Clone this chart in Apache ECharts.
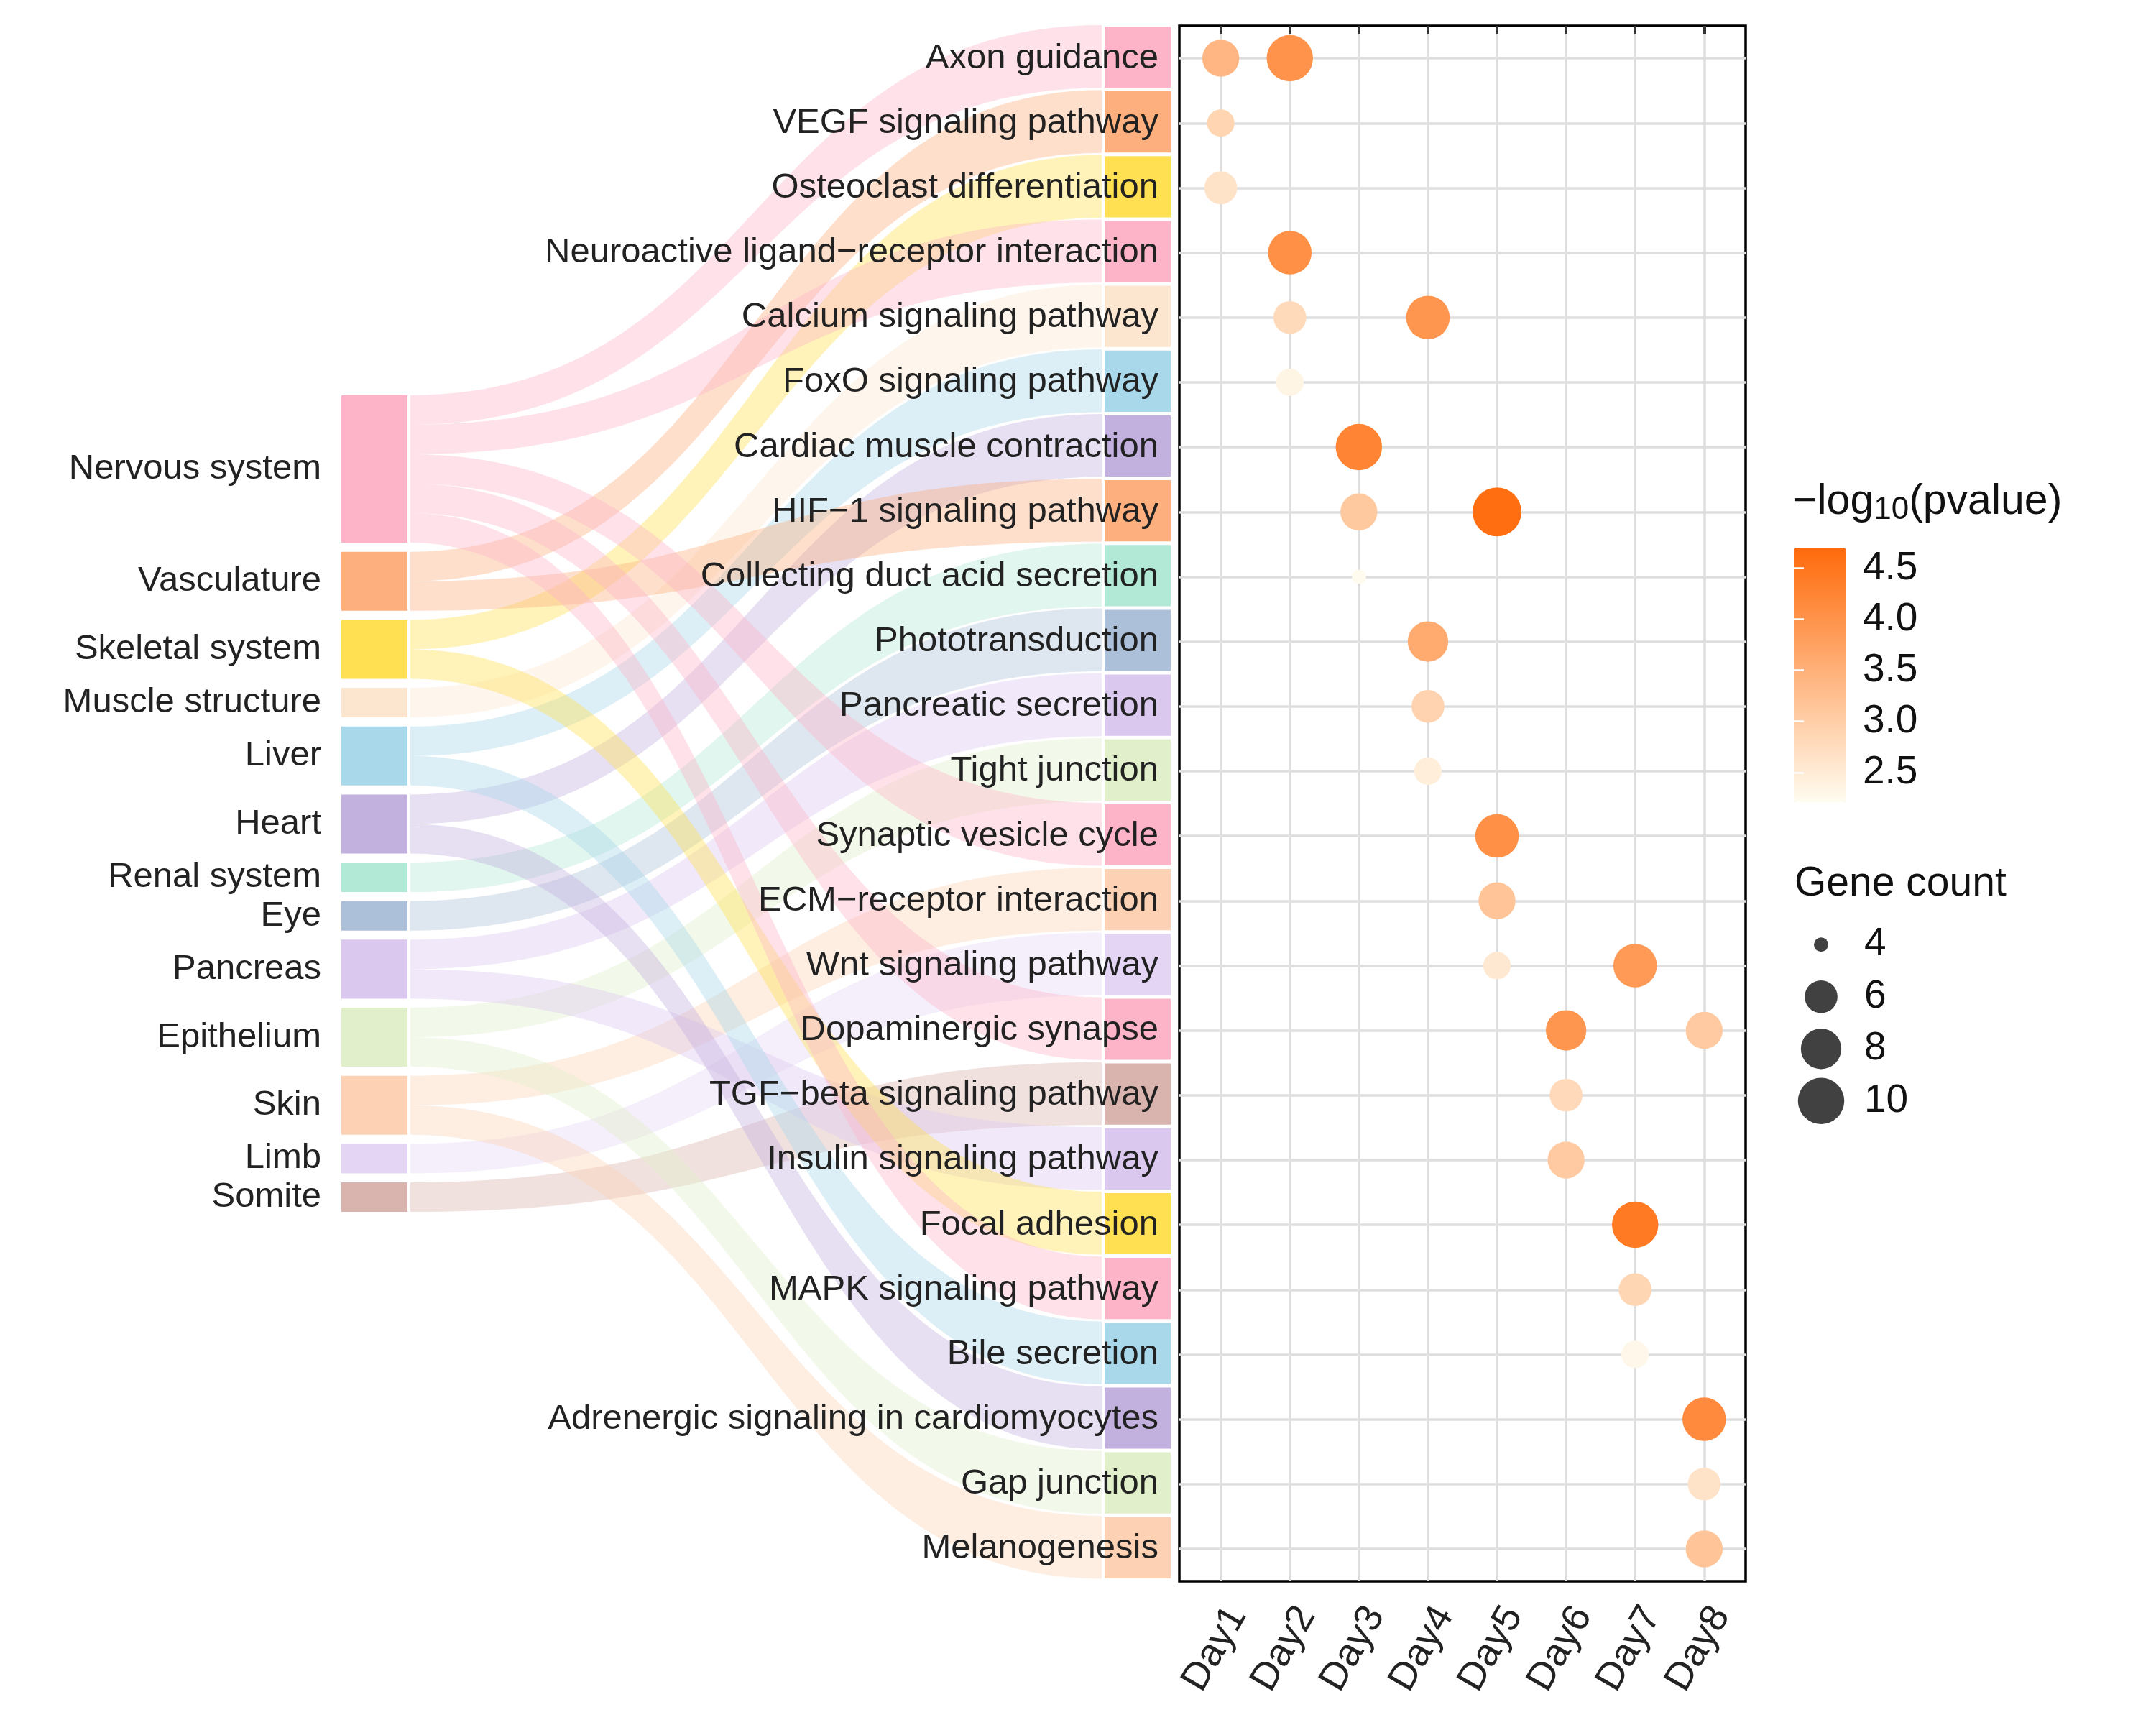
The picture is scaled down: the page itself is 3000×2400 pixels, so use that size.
<!DOCTYPE html>
<html>
<head>
<meta charset="utf-8">
<script src="https://cdn.jsdelivr.net/npm/echarts@6/dist/echarts.min.js"></script>
<style>
  html, body { margin: 0; padding: 0; background: #fff; }
  #chart { width: 3000px; height: 2400px; }
</style>
</head>
<body>
<div id="chart"></div>
<script>
"use strict";

// tissues (left column) and their colours
var tissues = ['Nervous system', 'Vasculature', 'Skeletal system', 'Muscle structure', 'Liver', 'Heart',
  'Renal system', 'Eye', 'Pancreas', 'Epithelium', 'Skin', 'Limb', 'Somite'];
var tissueColors = ['#FDB3C8', '#FDB07E', '#FEE052', '#FCE6D0', '#A8D8E9', '#C2B0DF',
  '#B2E9D6', '#ADC0DA', '#DBC8EF', '#E1EFCB', '#FDD2B4', '#E5D5F5', '#D9B3AE'];

// pathways (right column / dot rows), top to bottom
var pathways = ['Axon guidance', 'VEGF signaling pathway', 'Osteoclast differentiation',
  'Neuroactive ligand\u2212receptor interaction', 'Calcium signaling pathway', 'FoxO signaling pathway',
  'Cardiac muscle contraction', 'HIF\u22121 signaling pathway', 'Collecting duct acid secretion',
  'Phototransduction', 'Pancreatic secretion', 'Tight junction', 'Synaptic vesicle cycle',
  'ECM\u2212receptor interaction', 'Wnt signaling pathway', 'Dopaminergic synapse',
  'TGF\u2212beta signaling pathway', 'Insulin signaling pathway', 'Focal adhesion',
  'MAPK signaling pathway', 'Bile secretion', 'Adrenergic signaling in cardiomyocytes',
  'Gap junction', 'Melanogenesis'];
var pathwayTissue = ['Nervous system', 'Vasculature', 'Skeletal system', 'Nervous system',
  'Muscle structure', 'Liver', 'Heart', 'Vasculature', 'Renal system', 'Eye', 'Pancreas',
  'Epithelium', 'Nervous system', 'Skin', 'Limb', 'Nervous system', 'Somite', 'Pancreas',
  'Skeletal system', 'Nervous system', 'Liver', 'Heart', 'Epithelium', 'Skin'];

var days = ['Day1', 'Day2', 'Day3', 'Day4', 'Day5', 'Day6', 'Day7', 'Day8'];

// dots: pathway, day, -log10(pvalue), gene count
var dotPathway = ['Axon guidance', 'Axon guidance', 'VEGF signaling pathway', 'Osteoclast differentiation',
  'Neuroactive ligand\u2212receptor interaction', 'Calcium signaling pathway', 'Calcium signaling pathway',
  'FoxO signaling pathway', 'Cardiac muscle contraction', 'HIF\u22121 signaling pathway',
  'HIF\u22121 signaling pathway', 'Collecting duct acid secretion', 'Phototransduction',
  'Pancreatic secretion', 'Tight junction', 'Synaptic vesicle cycle', 'ECM\u2212receptor interaction',
  'Wnt signaling pathway', 'Wnt signaling pathway', 'Dopaminergic synapse', 'Dopaminergic synapse',
  'TGF\u2212beta signaling pathway', 'Insulin signaling pathway', 'Focal adhesion',
  'MAPK signaling pathway', 'Bile secretion', 'Adrenergic signaling in cardiomyocytes',
  'Gap junction', 'Melanogenesis'];
var dotDay = [1, 2, 1, 1, 2, 2, 4, 2, 3, 3, 5, 3, 4, 4, 4, 5, 5, 5, 7, 6, 8, 6, 6, 7, 7, 7, 8, 8, 8];
var dotLogP = [3.40, 4.00, 2.88, 2.64, 4.05, 2.79, 3.95, 2.33, 4.24, 3.08, 4.63, 2.22, 3.61, 2.91, 2.45,
  4.05, 3.15, 2.55, 3.88, 3.95, 3.07, 2.80, 3.07, 4.43, 2.86, 2.28, 4.15, 2.64, 3.15];
var dotCount = [7, 10, 5, 6, 9, 6, 9, 5, 10, 7, 11, 4, 8, 6, 5, 9, 7, 5, 9, 8, 7, 6, 7, 10, 6, 5, 9, 6, 7];

var sizeBreaks = [4, 6, 8, 10];
var colorTicks = [2.5, 3.0, 3.5, 4.0, 4.5];

var FONT = "'Liberation Sans', Arial, Helvetica, sans-serif";
var TEXT = '#222222';

// point diameter (area scale, counts 4..11)
function dotSize(n) {
  return 20 + 48 * Math.sqrt(Math.max(0, n - 4) / 7);
}

// ---- sankey layout in row units (24 rows) ----
var unit = 0.455, gap = 0.14;
var tissueCounts = tissues.map(function (t) {
  return pathwayTissue.filter(function (p) { return p === t; }).length;
});
var leftTotal = tissueCounts.reduce(function (a, b) { return a + b; }, 0) * unit + (tissues.length - 1) * gap;
var tissueStart = [];
var yy = (pathways.length - leftTotal) / 2;
tissues.forEach(function (t, i) {
  tissueStart.push(yy);
  yy += tissueCounts[i] * unit + gap;
});

var NODE_L = [0, 0.0797], NODE_R = [0.9203, 1], FLOW_X = [0.0832, 0.9168];

var flowData = [], nodeData = [], leftLabelData = [];
var used = tissues.map(function () { return 0; });
pathways.forEach(function (p, i) {
  var t = tissues.indexOf(pathwayTissue[i]);
  var s0 = tissueStart[t] + used[t] * unit;
  used[t]++;
  flowData.push([s0, s0 + unit, i - 0.01, i + 0.96, t]);
  nodeData.push([NODE_R[0], NODE_R[1], i + 0.01, i + 0.955, t]);
});
tissues.forEach(function (t, i) {
  nodeData.push([NODE_L[0], NODE_L[1], tissueStart[i], tissueStart[i] + tissueCounts[i] * unit, i]);
  leftLabelData.push([tissueStart[i] + tissueCounts[i] * unit / 2, i]);
});

var dotData = dotPathway.map(function (p, i) {
  return [dotDay[i], pathways.indexOf(p) + 0.5, dotLogP[i], dotCount[i]];
});

var rowCenters = pathways.map(function (p, i) { return i + 0.5; });
var dayTicks = days.map(function (d, i) { return i + 1; });

var chart = echarts.init(document.getElementById('chart'), null, { renderer: 'canvas' });

var option = {
  backgroundColor: '#ffffff',
  animation: false,
  textStyle: { fontFamily: FONT },
  title: [
    {
      text: '{a|\u2212log}{b|10}{a|(pvalue)}',
      left: 2494, top: 666, padding: 0,
      textStyle: {
        fontWeight: 'normal',
        rich: {
          a: { fontSize: 59, fontFamily: FONT, fontWeight: 'normal', color: '#111', lineHeight: 66 },
          b: { fontSize: 44, fontFamily: FONT, fontWeight: 'normal', color: '#111', lineHeight: 38, verticalAlign: 'bottom' }
        }
      }
    },
    {
      text: 'Gene count', left: 2497, top: 1202, padding: 0,
      textStyle: { fontSize: 57, fontFamily: FONT, color: '#111', fontWeight: 'normal', lineHeight: 57 }
    }
  ],
  grid: [
    { left: 475, right: 1371, top: 36, bottom: 200 },
    { left: 1641, right: 571, top: 36, bottom: 200, show: true, borderColor: '#000', borderWidth: 3.5, backgroundColor: 'transparent' },
    { left: 2498, width: 72, top: 1278, height: 290 },
    { left: 2496, width: 72, top: 762, height: 354 }
  ],
  xAxis: [
    { gridIndex: 0, type: 'value', min: 0, max: 1, show: false },
    {
      gridIndex: 1, type: 'value', min: 0.4, max: 8.6,
      axisLine: { show: false },
      axisTick: { show: true, customValues: dayTicks, length: 11, lineStyle: { color: '#333', width: 4 } },
      axisLabel: {
        customValues: dayTicks, rotate: 60, margin: 26, fontSize: 54, color: TEXT, fontFamily: FONT,
        align: 'right', verticalAlign: 'top',
        formatter: function (v) { return days[Math.round(v) - 1] || ''; }
      },
      splitLine: { show: true, lineStyle: { color: '#DEDEDE', width: 3.5 } }
    },
    { gridIndex: 2, type: 'value', min: 0, max: 1, show: false },
    { gridIndex: 3, type: 'value', min: 0, max: 1, show: false }
  ],
  yAxis: [
    { gridIndex: 0, type: 'value', min: 0, max: 24, inverse: true, show: false },
    {
      gridIndex: 1, type: 'value', min: 0, max: 24, inverse: true, z: 10,
      axisLine: { show: false },
      axisTick: { show: false, customValues: rowCenters },
      axisLabel: {
        customValues: rowCenters, margin: 29, fontSize: 49, color: TEXT, fontFamily: FONT,
        formatter: function (v) { return pathways[Math.floor(v)] || ''; }
      },
      splitLine: { show: true, lineStyle: { color: '#DEDEDE', width: 3.5 } }
    },
    {
      gridIndex: 2, type: 'category', data: sizeBreaks.map(String), inverse: true, position: 'right',
      axisLine: { show: false }, axisTick: { show: false }, splitLine: { show: false },
      axisLabel: { margin: 24, fontSize: 55, color: '#111', fontFamily: FONT }
    },
    {
      gridIndex: 3, type: 'value', min: 2.21, max: 4.70, position: 'right', z: 10,
      axisLine: { show: false }, splitLine: { show: false },
      axisTick: { show: true, inside: true, length: 14, customValues: colorTicks, lineStyle: { color: '#fff', width: 2.5 } },
      axisLabel: {
        customValues: colorTicks, margin: 24, fontSize: 55, color: '#111', fontFamily: FONT,
        formatter: function (v) { return v.toFixed(1); }
      }
    },
    {
      gridIndex: 3, type: 'value', min: 2.21, max: 4.70, position: 'left', z: 10,
      axisLine: { show: false }, splitLine: { show: false }, axisLabel: { show: false },
      axisTick: { show: true, inside: true, length: 14, customValues: colorTicks, lineStyle: { color: '#fff', width: 2.5 } }
    }
  ],
  visualMap: [{
    type: 'continuous', seriesIndex: 3, dimension: 2,
    min: 2.21, max: 4.70, calculable: false, hoverLink: false,
    left: 2496, top: 762, padding: 0, itemWidth: 72, itemHeight: 354,
    text: null, showLabel: false,
    inRange: { color: ['#FFFCF0', '#FF6A0A'] }
  }],
  series: [
    {
      // flows
      type: 'custom', xAxisIndex: 0, yAxisIndex: 0, silent: true, clip: false, z: 1,
      data: flowData,
      renderItem: function (params, api) {
        var xa = api.coord([FLOW_X[0], 0])[0], xb = api.coord([FLOW_X[1], 0])[0];
        var ya0 = api.coord([0, api.value(0)])[1], ya1 = api.coord([0, api.value(1)])[1];
        var yb0 = api.coord([0, api.value(2)])[1], yb1 = api.coord([0, api.value(3)])[1];
        var xm = (xa + xb) / 2;
        var d = 'M' + xa + ' ' + ya0 + ' C' + xm + ' ' + ya0 + ' ' + xm + ' ' + yb0 + ' ' + xb + ' ' + yb0 +
          ' L' + xb + ' ' + yb1 + ' C' + xm + ' ' + yb1 + ' ' + xm + ' ' + ya1 + ' ' + xa + ' ' + ya1 + ' Z';
        return {
          type: 'path', shape: { pathData: d },
          style: { fill: echarts.color.modifyAlpha(tissueColors[api.value(4)], 0.4) }
        };
      }
    },
    {
      // node boxes
      type: 'custom', xAxisIndex: 0, yAxisIndex: 0, silent: true, clip: false, z: 2,
      data: nodeData,
      renderItem: function (params, api) {
        var p0 = api.coord([api.value(0), api.value(2)]);
        var p1 = api.coord([api.value(1), api.value(3)]);
        return {
          type: 'rect',
          shape: { x: p0[0], y: p0[1], width: p1[0] - p0[0], height: p1[1] - p0[1] },
          style: { fill: tissueColors[api.value(4)] }
        };
      }
    },
    {
      // tissue labels
      type: 'custom', xAxisIndex: 0, yAxisIndex: 0, silent: true, clip: false, z: 3,
      data: leftLabelData,
      renderItem: function (params, api) {
        var p = api.coord([0, api.value(0)]);
        return {
          type: 'text', x: p[0] - 28, y: p[1],
          style: {
            text: tissues[api.value(1)], fontSize: 49, fontFamily: FONT, fill: TEXT,
            align: 'right', verticalAlign: 'middle', textAlign: 'right', textVerticalAlign: 'middle'
          }
        };
      }
    },
    {
      type: 'scatter', xAxisIndex: 1, yAxisIndex: 1, z: 20,
      data: dotData,
      symbolSize: function (val) { return dotSize(val[3]); },
      itemStyle: { opacity: 1 }
    },
    {
      type: 'scatter', xAxisIndex: 2, yAxisIndex: 2, silent: true, z: 20,
      data: sizeBreaks.map(function (n) { return [0.5, String(n), n]; }),
      symbolSize: function (val) { return dotSize(val[2]); },
      itemStyle: { color: '#111' }
    }
  ]
};

chart.setOption(option);
</script>
</body>
</html>
